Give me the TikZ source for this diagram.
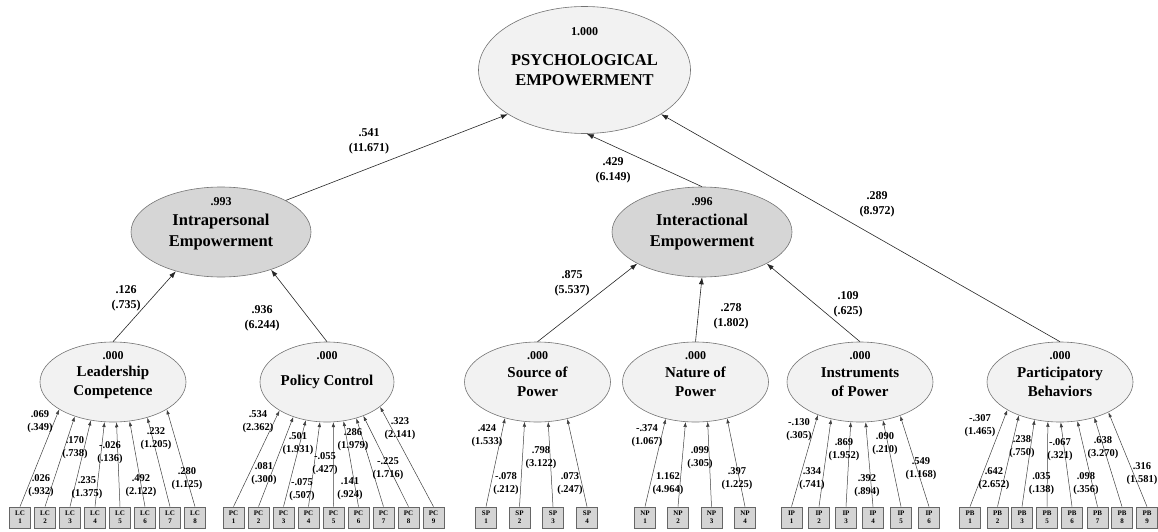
\documentclass[tikz,border=0pt]{standalone}
\usepackage{fontspec}
\setmainfont{Liberation Serif}
\usetikzlibrary{shapes.geometric,arrows.meta}
\begin{document}
\begin{tikzpicture}[x=1pt,y=-1pt,
  latbase/.style={ellipse, draw=black!55, line width=0.6pt, inner sep=0pt, align=center},
  toplat/.style={latbase, fill=black!5, minimum width=212pt, minimum height=127pt, font=\bfseries\fontsize{16.5}{20}\selectfont},
  midlat/.style={latbase, fill=black!16, minimum width=180pt, minimum height=90pt, font=\bfseries\fontsize{16.5}{20.5}\selectfont},
  lowlat/.style={latbase, fill=black!5, minimum width=146pt, minimum height=80pt, font=\bfseries\fontsize{15}{19}\selectfont},
  ind/.style={rectangle, draw=black!60, fill=black!17, line width=0.7pt, minimum size=21pt, inner sep=0pt, align=center, font=\bfseries\fontsize{7}{8}\selectfont},
  coef/.style={align=center, inner sep=0pt, font=\bfseries\fontsize{12}{15}\selectfont},
  load/.style={align=center, inner sep=0pt, font=\bfseries\fontsize{10.5}{13}\selectfont},
  val/.style={inner sep=0pt, font=\bfseries\fontsize{12}{14}\selectfont},
  arr/.style={-{Latex[length=7pt,width=5pt]}, line width=0.6pt, draw=black!85},
  larr/.style={-{Latex[length=5pt,width=3.5pt]}, line width=0.5pt, draw=black!75}
]
\useasboundingbox (0,0) rectangle (1158,532);

% top latent
\node[toplat] (pe) at (584.5,70) {PSYCHOLOGICAL\\EMPOWERMENT};
\node[val] (vpe) at (584.5,32) {1.000};

% second order
\node[midlat] (intra) at (221,232) {Intrapersonal\\Empowerment};
\node[val] (vintra) at (221,202) {.993};
\node[midlat] (inter) at (702,232) {Interactional\\Empowerment};
\node[val] (vinter) at (702,202) {.996};

% first order
\node[lowlat] (lc) at (113,382) {Leadership\\Competence};
\node[lowlat, minimum width=134pt] (pc) at (327,382) {Policy Control};
\node[lowlat] (sp) at (537.5,382) {Source of\\Power};
\node[lowlat] (np) at (695.5,382) {Nature of\\Power};
\node[lowlat] (ip) at (860,382) {Instruments\\of Power};
\node[lowlat] (pb) at (1060,382) {Participatory\\Behaviors};
\foreach \n/\x in {lc/113,pc/327,sp/537.5,np/695.5,ip/860,pb/1060}
  \node[val] (v\n) at (\x,356) {.000};

% structural paths
\draw[arr] (intra.26) -- (pe.-150);
\draw[arr] (inter.north) -- (pe.-88);
\draw[arr] (pb.north) -- (pe.-30);
\draw[arr] (lc.north) -- (intra.-139);
\draw[arr] (pc.north) -- (intra.-37);
\draw[arr] (sp.north) -- (inter.-154);
\draw[arr] (np.north) -- (inter.-90);
\draw[arr] (ip.north) -- (inter.-26.6);

\node[coef] (c1) at (369,141) {.541\\(11.671)};
\node[coef] (c2) at (613,170) {.429\\(6.149)};
\node[coef] (c3) at (877,204) {.289\\(8.972)};
\node[coef] (c4) at (126,298) {.126\\(.735)};
\node[coef] (c5) at (262,318) {.936\\(6.244)};
\node[coef] (c6) at (572,283) {.875\\(5.537)};
\node[coef] (c7) at (731,316) {.278\\(1.802)};
\node[coef] (c8) at (848,304) {.109\\(.625)};

% indicators
\foreach \i/\x/\a in {1/20/-153.6,2/45/-138.2,3/70/-120.6,4/95/-102,5/120/-85.8,6/145/-67,7/170/-46,8/195/-27.3} {
  \node[ind] (lc\i) at (\x,517.5) {LC\\\i};
  \draw[larr] (lc\i.north) -- (lc.\a);
}
\foreach \i/\x/\a in {1/233.5/-149.5,2/258.5/-134,3/283.5/-119.4,4/308.5/-100,5/333.5/-81.6,6/358.5/-67.2,7/383.5/-51.5,8/408.5/-43,9/433.5/-25.4} {
  \node[ind] (pc\i) at (\x,517.5) {PC\\\i};
  \draw[larr] (pc\i.north) -- (pc.\a);
}
\foreach \i/\x/\a in {1/486/-132,2/519.5/-108,3/553/-75.7,4/587/-51} {
  \node[ind] (sp\i) at (\x,517.5) {SP\\\i};
  \draw[larr] (sp\i.north) -- (sp.\a);
}
\foreach \i/\x/\a in {1/645/-129.5,2/678/-104.8,3/711.5/-73.7,4/745/-49.9} {
  \node[ind] (np\i) at (\x,517.5) {NP\\\i};
  \draw[larr] (np\i.north) -- (np.\a);
}
\foreach \i/\x/\a in {1/791.5/-142.5,2/819/-128,3/846/-103.7,4/873/-82,5/901/-59,6/929/-40.5} {
  \node[ind] (ip\i) at (\x,517.5) {IP\\\i};
  \draw[larr] (ip\i.north) -- (ip.\a);
}
\foreach \i/\x/\a in {1/970/-152.4,2/997.5/-141.8,3/1022/-124.9,5/1047/-107.1,6/1072/-89,7/1097.5/-66.8,8/1122/-46.8,9/1147/-32.5} {
  \node[ind] (pb\i) at (\x,517.5) {PB\\\i};
  \draw[larr] (pb\i.north) -- (pb.\a);
}

% loading labels
\foreach \k/\x/\y/\t/\s in {
  1/40/421.5/.069/(.349), 2/75/448/.170/(.738), 3/41/485.5/.026/(.932), 4/87/488/.235/(1.375),
  5/110/453/-.026/(.136), 6/141/485.5/.492/(2.122), 7/156/438.5/.232/(1.205), 8/187/478.5/.280/(1.125),
  9/258/421.5/.534/(2.362), 10/298/443.5/.501/(1.931), 11/264/474/.081/(.300), 12/325/464/-.055/(.427),
  13/302/490/-.075/(.507), 14/353/439.5/.286/(1.979), 15/350/489/.141/(.924), 16/388/468.5/-.225/(1.716),
  17/400/428.5/.323/(2.141),
  18/487/436/.424/(1.533), 19/541/457.5/.798/(3.122), 20/506/483.5/-.078/(.212), 21/570/483.5/.073/(.247),
  22/647/436/-.374/(1.067), 23/700/457.5/.099/(.305), 24/668/483.5/1.162/(4.964), 25/737/479/.397/(1.225),
  26/799/429.5/-.130/(.305), 27/844/449.5/.869/(1.952), 28/885/443.5/.090/(.210), 29/812/479/.334/(.741),
  30/867/486/.392/(.894), 31/921/468.5/.549/(1.168),
  32/980/426/-.307/(1.465), 33/1022/447/.238/(.750), 34/1060/450/-.067/(.321), 35/1103/447.5/.638/(3.270),
  36/994/479/.642/(2.652), 37/1041.5/483.5/.035/(.138), 38/1086/483.5/.098/(.356), 39/1142/473.5/.316/(1.581)}
  \node[load] (ld\k) at (\x,\y) {\t\\\s};
\end{tikzpicture}
\end{document}
